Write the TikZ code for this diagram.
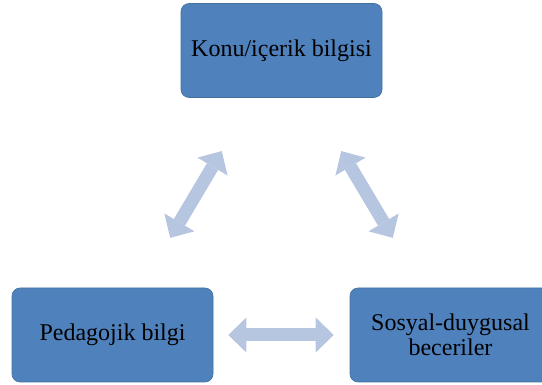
\documentclass[tikz,border=0pt]{standalone}
\usepackage{fontspec}
\setmainfont{Liberation Serif}
\usetikzlibrary{arrows.meta}
\definecolor{boxblue}{HTML}{4F81BD}
\definecolor{boxedge}{HTML}{41719C}
\definecolor{linkblue}{HTML}{B7C6E0}

\begin{document}
\begin{tikzpicture}[x=1pt,y=-1pt,
  topic/.style={draw=boxedge,fill=boxblue,line width=0.6pt,rounded corners=8pt,
    minimum width=201pt,minimum height=94pt,inner sep=0pt,align=center,
    font=\fontsize{24}{25}\selectfont},
  link/.style={linkblue,line width=13pt,
    {Triangle[width=35pt,length=18pt,line width=0pt]}-{Triangle[width=35pt,length=18pt,line width=0pt]}}]
  \clip (0,0) rectangle (542,385);
  % boxes
  \node[topic] (konu) at (281.5,50.5) {Konu/içerik bilgisi};
  \node[topic] (pedagoji) at (112.5,335) {Pedagojik bilgi};
  \node[topic] (sosyal) at (450.5,335) {Sosyal-duygusal\\beceriler};
  % two-way arrows
  \draw[link,shorten <=62pt,shorten >=58pt] (konu) -- (pedagoji);
  \draw[link,shorten <=62pt,shorten >=58pt] (konu) -- (sosyal);
  \draw[link,shorten <=15pt,shorten >=16pt] (pedagoji) -- (sosyal);
\end{tikzpicture}
\end{document}
